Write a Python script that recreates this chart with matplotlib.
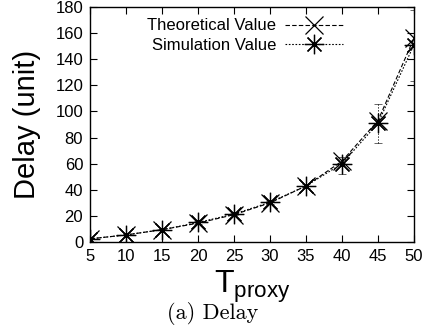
import numpy as np
import matplotlib
matplotlib.use("Agg")
import matplotlib.pyplot as plt

t_proxy = [5, 10, 15, 20, 25, 30, 35, 40, 45, 50]
theoretical = [2.5, 5.5, 9.5, 14.5, 21, 30, 43, 62, 93, 156]
simulation = [2.5, 5.5, 9.5, 15, 21.5, 30.5, 43, 60, 91, 151]
sim_low = [2.3, 5.2, 9.0, 14.2, 20.5, 29.5, 41.5, 52, 76, 123]
sim_high = [2.7, 5.8, 10.0, 15.8, 22.5, 31.5, 44.5, 65, 106, 178]

plt.rcParams['font.family'] = ['Liberation Sans', 'DejaVu Sans']

fig = plt.figure(figsize=(4.25, 3.33), dpi=100)
ax = fig.add_axes([0.212, 0.273, 0.762, 0.706])

ax.plot(t_proxy, theoretical, color='black', linestyle=(0, (4, 2)), linewidth=0.8,
        marker='x', markersize=13, markeredgewidth=0.9, label='Theoretical Value')
err = [np.array(simulation) - np.array(sim_low), np.array(sim_high) - np.array(simulation)]
eb = ax.errorbar(t_proxy, simulation, yerr=err, fmt='none', ecolor='black',
                 elinewidth=0.7, capsize=3, capthick=0.7)
for lc in eb[2]:
    lc.set_linestyle((0, (1.2, 1.8)))
for cap in eb[1]:
    cap.set_alpha(0.6)
ax.plot(t_proxy, simulation, color='black', linestyle=(0, (1.5, 1.5)), linewidth=0.8,
        marker=(8, 2, 0), markersize=14, markeredgewidth=0.9, label='Simulation Value')

ax.set_xlim(5, 50)
ax.set_ylim(0, 180)
ax.set_xticks(t_proxy)
ax.set_yticks(range(0, 181, 20))
ax.tick_params(direction='in', top=True, right=True, labelsize=12, length=5, pad=5)
for s in ax.spines.values():
    s.set_linewidth(1.0)

ax.set_ylabel('Delay (unit)', fontsize=21, labelpad=10)
ax.set_xlabel(r'T$_{\mathregular{proxy}}$', fontsize=23, labelpad=3)

leg = ax.legend(loc='upper left', bbox_to_anchor=(0.13, 1.015), frameon=False,
                markerfirst=False, fontsize=12, handlelength=3.5, handletextpad=0.5,
                labelspacing=0.25)
for col in leg._legend_handle_box.get_children():
    col.align = 'right'

fig.text(0.5, 0.025, '(a) Delay', ha='center', va='bottom', fontsize=16,
         family='cmr10')

fig.savefig('out.png', dpi=100)
